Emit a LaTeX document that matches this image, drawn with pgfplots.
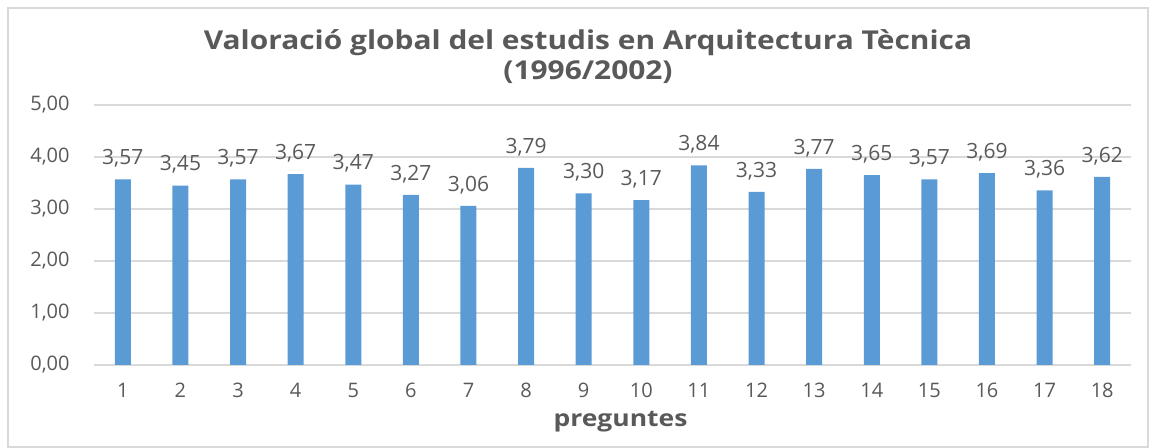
\documentclass[border=0pt]{standalone}
\usepackage{fontspec}
\setmainfont{Open Sans}
\newfontfamily\widefont[FakeStretch=1.15]{Open Sans}
\usepackage{pgfplots}
\pgfplotsset{compat=1.18}
\definecolor{barblue}{HTML}{5B9BD5}
\definecolor{txtgray}{HTML}{595959}
\definecolor{gridgray}{HTML}{D9D9D9}
\begin{document}
\begin{tikzpicture}[x=1pt,y=1pt]
\path[use as bounding box] (0,0) rectangle (576.5,224);
\draw[gridgray, line width=0.8pt] (4,0.5) rectangle (574,220);
\node[font=\widefont\bfseries\fontsize{13}{15}\selectfont, text=txtgray, align=center] at (294,195.5) {Valoració global del estudis en Arquitectura Tècnica\\(1996/2002)};
\begin{axis}[
  at={(47pt,41.5pt)}, anchor=south west,
  scale only axis, width=518.5pt, height=130pt,
  xmin=0.5, xmax=18.5, ymin=0, ymax=5,
  xtick={1,...,18}, ytick={0,1,2,3,4,5},
  axis line style={draw=none},
  major tick length=0pt,
  ymajorgrids, grid style={gridgray, line width=0.8pt},
  ybar, bar width=8pt,
  tick label style={font=\fontsize{10}{12}\selectfont, text=txtgray},
  xticklabel style={anchor=center, inner sep=0pt, yshift=-12.5pt},
  yticklabel style={anchor=east, inner sep=0pt, xshift=-12pt},
  yticklabel={\pgfmathprintnumber[fixed,fixed zerofill,precision=2,use comma,assume math mode=true]{\tick}},
  xticklabel={\pgfmathprintnumber[assume math mode=true]{\tick}},
  xlabel={preguntes},
  xlabel style={at={(axis description cs:0.5,0)}, anchor=center, yshift=-28.5pt, xshift=4pt, font=\widefont\bfseries\fontsize{11.5}{13}\selectfont, text=txtgray},
  nodes near coords={\pgfmathprintnumber[fixed,fixed zerofill,precision=2,use comma,assume math mode=true]{\pgfplotspointmeta}},
  every node near coord/.append style={font=\fontsize{10.5}{12}\selectfont, text=txtgray, anchor=center, yshift=10.5pt, inner sep=0pt},
]
\addplot[fill=barblue, draw=none] coordinates {
(1,3.57) (2,3.45) (3,3.57) (4,3.67) (5,3.47) (6,3.27) (7,3.06) (8,3.79) (9,3.30)
(10,3.17) (11,3.84) (12,3.33) (13,3.77) (14,3.65) (15,3.57) (16,3.69) (17,3.36) (18,3.62)
};
\end{axis}
\end{tikzpicture}
\end{document}
